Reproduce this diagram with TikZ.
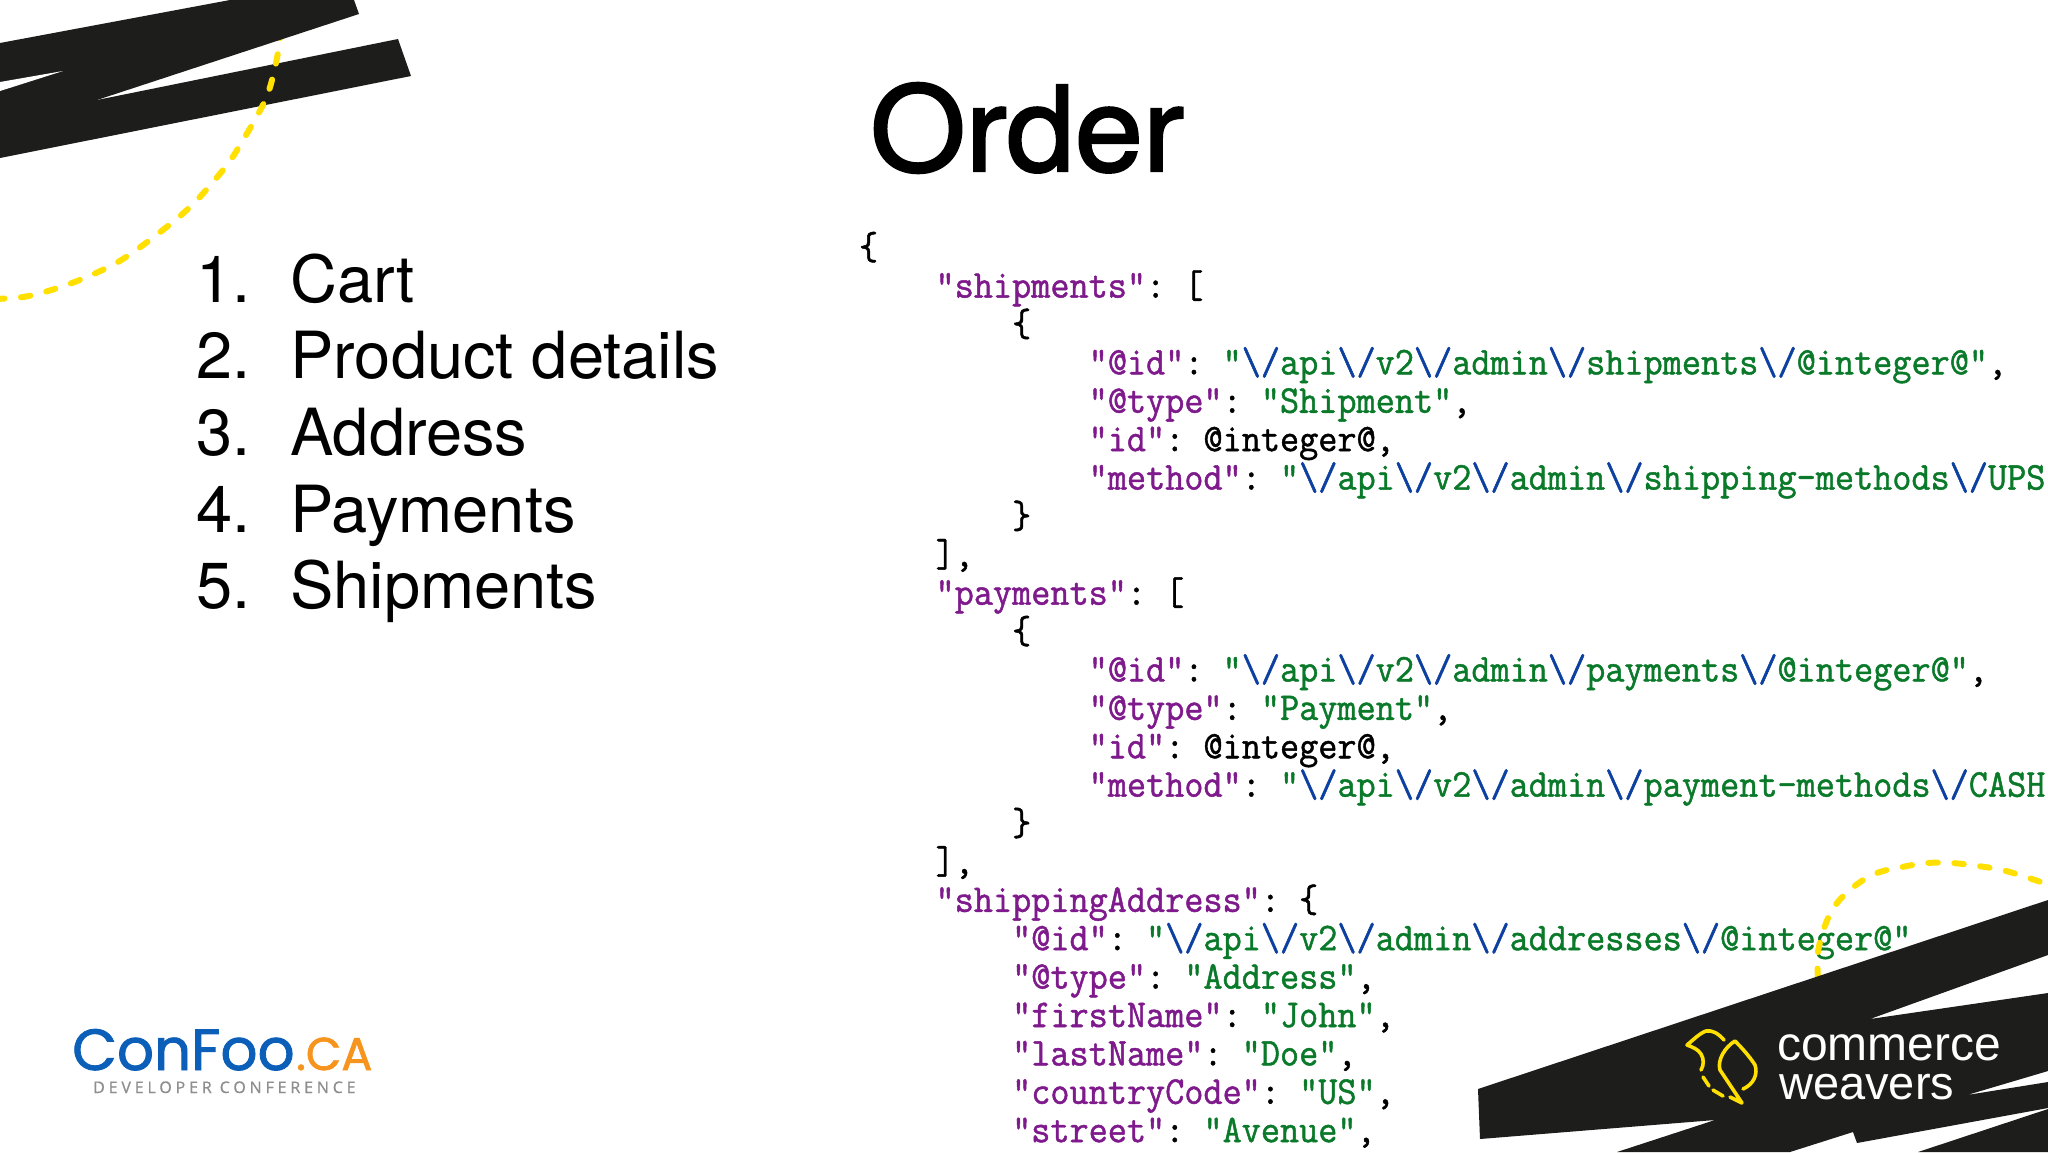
\documentclass[tikz,border=0pt]{standalone}
\usepackage{fontspec}
\setmainfont{Liberation Sans}
\newfontfamily\codefont[FakeStretch=0.943,FakeBold=1.2]{Latin Modern Mono}
\newfontfamily\titlefont[FakeBold=2,FakeStretch=1.04]{TeX Gyre Heros}
\newfontfamily\listfont{TeX Gyre Heros}
\newfontfamily\logofont[FakeBold=1.5]{Poppins}
\newfontfamily\subfont[LetterSpace=24,FakeBold=0.6]{Open Sans}
\definecolor{inkblack}{HTML}{1D1D1B}
\definecolor{dashyellow}{HTML}{FFE000}
\definecolor{ckey}{HTML}{7F1A8C}
\definecolor{cstr}{HTML}{0A7A2A}
\definecolor{cesc}{HTML}{0B3FA0}
\definecolor{cfblue}{HTML}{0B5FB8}
\definecolor{cforange}{HTML}{F7941E}
\definecolor{cfgrey}{HTML}{8E8E8E}
\newcommand{\cK}[1]{{\color{ckey}#1}}
\newcommand{\cS}[1]{{\color{cstr}#1}}
\newcommand{\cE}{{\color{cesc}\textbackslash/}}
\newcommand{\codeln}[4]{\node[codeline] (#1) at ({859+19.14*#2},{259.2+38.39*#3}) {\spaceskip=19.14pt \xspaceskip=19.14pt \relax #4};}
\tikzset{
  codeline/.style={anchor=base west,inner sep=0pt,outer sep=0pt,font=\codefont\fontsize{39.4}{40}\selectfont,text=black},
  listnum/.style={anchor=base west,inner sep=0pt,font=\listfont\fontsize{65}{70}\selectfont,text=black},
  yellowdash/.style={draw=dashyellow,line width=6pt,line cap=round,dash pattern=on 9.5pt off 16.5pt},
  birdline/.style={draw=dashyellow,line width=3.6pt,line cap=round,line join=round},
  blackshape/.style={fill=inkblack,draw=none},
}
\begin{document}
\begin{tikzpicture}[x=1pt,y=-1pt]
\useasboundingbox (0,0) rectangle (2048,1152);
\fill[white] (0,0) rectangle (2048,1152);
\clip (0,0) rectangle (2048,1152);
% code
\codeln{l0}{0}{0}{\{}
\codeln{l1}{4}{1}{\cK{"shipments"}: [}
\codeln{l2}{8}{2}{\{}
\codeln{l3}{12}{3}{\cK{"@id"}: \cS{"}\cE\cS{api}\cE\cS{v2}\cE\cS{admin}\cE\cS{shipments}\cE\cS{@integer@"},}
\codeln{l4}{12}{4}{\cK{"@type"}: \cS{"Shipment"},}
\codeln{l5}{12}{5}{\cK{"id"}: @integer@,}
\codeln{l6}{12}{6}{\cK{"method"}: \cS{"}\cE\cS{api}\cE\cS{v2}\cE\cS{admin}\cE\cS{shipping-methods}\cE\cS{UPS}}
\codeln{l7}{8}{7}{\}}
\codeln{l8}{4}{8}{],}
\codeln{l9}{4}{9}{\cK{"payments"}: [}
\codeln{l10}{8}{10}{\{}
\codeln{l11}{12}{11}{\cK{"@id"}: \cS{"}\cE\cS{api}\cE\cS{v2}\cE\cS{admin}\cE\cS{payments}\cE\cS{@integer@"},}
\codeln{l12}{12}{12}{\cK{"@type"}: \cS{"Payment"},}
\codeln{l13}{12}{13}{\cK{"id"}: @integer@,}
\codeln{l14}{12}{14}{\cK{"method"}: \cS{"}\cE\cS{api}\cE\cS{v2}\cE\cS{admin}\cE\cS{payment-methods}\cE\cS{CASH}}
\codeln{l15}{8}{15}{\}}
\codeln{l16}{4}{16}{],}
\codeln{l17}{4}{17}{\cK{"shippingAddress"}: \{}
\codeln{l18}{8}{18}{\cK{"@id"}: \cS{"}\cE\cS{api}\cE\cS{v2}\cE\cS{admin}\cE\cS{addresses}\cE\cS{@integer@"},}
\codeln{l19}{8}{19}{\cK{"@type"}: \cS{"Address"},}
\codeln{l20}{8}{20}{\cK{"firstName"}: \cS{"John"},}
\codeln{l21}{8}{21}{\cK{"lastName"}: \cS{"Doe"},}
\codeln{l22}{8}{22}{\cK{"countryCode"}: \cS{"US"},}
\codeln{l23}{8}{23}{\cK{"street"}: \cS{"Avenue"},}
% title
\node[anchor=base west,inner sep=0pt,font=\titlefont\fontsize{118}{130}\selectfont] (title) at (870,171) {Order};
% list
\node[listnum] (n1) at (196,302) {1.};
\node[listnum] (t1) at (290,302) {Cart};
\node[listnum] (n2) at (196,378.7) {2.};
\node[listnum] (t2) at (290,378.7) {Product details};
\node[listnum] (n3) at (196,455.4) {3.};
\node[listnum] (t3) at (290,455.4) {Address};
\node[listnum] (n4) at (196,532.1) {4.};
\node[listnum] (t4) at (290,532.1) {Payments};
\node[listnum] (n5) at (196,608.8) {5.};
\node[listnum] (t5) at (290,608.8) {Shipments};
% top-left strokes
\fill[blackshape] (97,100) -- (398,39) -- (411,76) -- (0,158) -- (0,100) -- cycle;
\draw[yellowdash] plot[smooth,tension=0.6] coordinates {(-5,299) (23,297) (48,291) (72,283) (96,273) (118,262) (139,248) (159,233) (179,217) (197,200) (213,182) (230,161) (243,140) (256,118) (267,96) (274,72) (279,47) (281,30)};
\fill[blackshape] (0,43) -- (230,0) -- (354,0) -- (359,14) -- (97,100) -- (0,130) -- cycle;
\fill[white] (0,82) -- (63,71) -- (0,91) -- cycle;
% bottom-right
\draw[yellowdash] plot[smooth,tension=0.6] coordinates {(1818,978) (1818,952) (1826,923) (1837,903) (1856,885) (1877,873) (1902,867) (1927,863) (1952,863) (1978,866) (2002,870) (2026,877) (2052,886)};
\fill[blackshape] (1478,1089) -- (2048,900) -- (2048,955) -- (1870,1019) -- (2048,993) -- (2048,1071) -- (1967,1095) -- (2048,1082) -- (2048,1108) -- (1857,1143) -- (1853,1132) -- (1790,1152) -- (1617,1152) -- (1715,1120) -- (1480,1139) -- cycle;
\fill[blackshape] (1918,1152) -- (2048,1109) -- (2048,1152) -- cycle;
% bird logo
\draw[birdline] (1724,1040) .. controls (1718,1033) and (1712,1030) .. (1706,1031) .. controls (1700,1033) and (1693,1040) .. (1687,1045) .. controls (1692,1047) and (1698,1049) .. (1701,1054) .. controls (1704,1059) and (1704,1065) .. (1701,1070);
\draw[birdline] (1703,1077) -- (1709,1086);
\draw[birdline] (1713,1090) -- (1723,1096);
\draw[birdline] (1730,1097) -- (1742,1103) -- (1720,1070) .. controls (1717,1060) and (1725,1047) .. (1735,1041) .. controls (1742,1048) and (1750,1057) .. (1755,1065) .. controls (1758,1074) and (1754,1084) .. (1743,1089);
\node[anchor=base west,inner sep=0pt,text=white,font=\fontsize{48}{48}\selectfont] (cw1) at (1777,1060) {commerce};
\node[anchor=base west,inner sep=0pt,text=white,font=\fontsize{47}{48}\selectfont] (cw2) at (1779,1099) {weavers};
% confoo logo
\node[anchor=base west,inner sep=0pt,text=cfblue,font=\logofont\fontsize{58}{60}\selectfont] (cf) at (72,1070) {ConFoo};
\node[anchor=base west,inner sep=0pt,text=cforange,font=\logofont\fontsize{46}{50}\selectfont] (ca) at (296,1070) {.CA};
\node[anchor=base west,inner sep=0pt,text=cfgrey,font=\subfont\fontsize{16}{18}\selectfont] (sub) at (93,1093) {DEVELOPER CONFERENCE};
\end{tikzpicture}
\end{document}
